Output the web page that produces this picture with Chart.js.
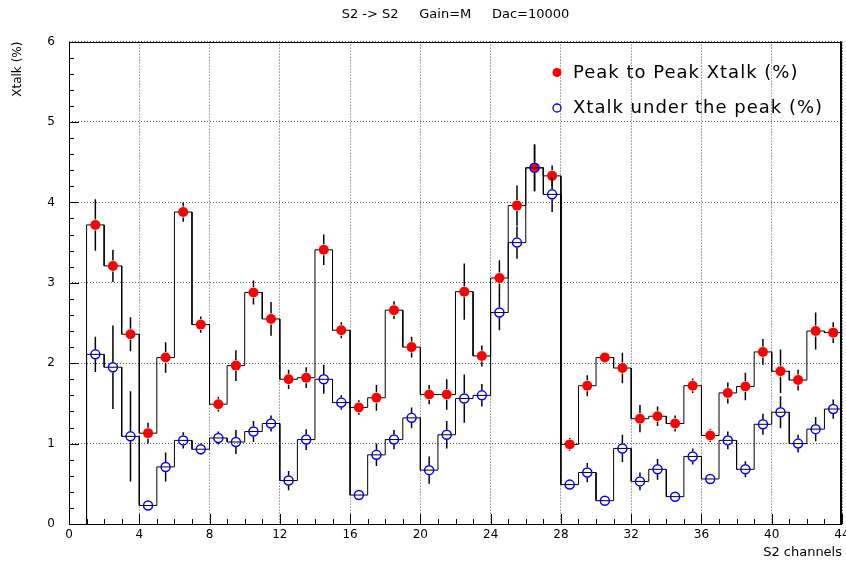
<!DOCTYPE html>
<html>
<head>
<meta charset="utf-8">
<script src="https://cdn.jsdelivr.net/npm/chart.js@4/dist/chart.umd.min.js"></script>
<style>
  html, body { margin: 0; padding: 0; background: #fff; }
  #c { display: block; }
</style>
</head>
<body>
<canvas id="c" width="846" height="561"></canvas>
<script>
// ===== Data =====
const channels = [1, 2, 3, 4, 5, 6, 7, 8, 9, 10, 11, 12, 13, 14, 15, 16, 17, 18, 19, 20, 21, 22,
                  23, 24, 25, 26, 27, 28, 29, 30, 31, 32, 33, 34, 35, 36, 37, 38, 39, 40, 41, 42, 43];

const peakToPeak = [3.72, 3.21, 2.36, 1.13, 2.07, 3.88, 2.48, 1.49, 1.97, 2.88, 2.55, 1.80, 1.82, 3.41, 2.41,
                    1.45, 1.57, 2.66, 2.20, 1.61, 1.61, 2.89, 2.09, 3.06, 3.96, 4.43, 4.33, 0.99, 1.72, 2.07,
                    1.94, 1.31, 1.34, 1.25, 1.72, 1.10, 1.63, 1.71, 2.14, 1.90, 1.79, 2.40, 2.38];
const peakErr    = [0.32, 0.20, 0.21, 0.13, 0.19, 0.12, 0.10, 0.09, 0.19, 0.15, 0.21, 0.12, 0.13, 0.19, 0.10,
                    0.09, 0.16, 0.11, 0.13, 0.12, 0.19, 0.35, 0.13, 0.22, 0.25, 0.29, 0.13, 0.08, 0.13, 0.04,
                    0.19, 0.17, 0.12, 0.10, 0.09, 0.08, 0.13, 0.17, 0.16, 0.27, 0.13, 0.23, 0.13];

const underPeak  = [2.11, 1.95, 1.09, 0.23, 0.71, 1.04, 0.93, 1.07, 1.02, 1.15, 1.25, 0.54, 1.05, 1.80, 1.51,
                    0.36, 0.86, 1.05, 1.32, 0.67, 1.11, 1.56, 1.60, 2.63, 3.50, 4.43, 4.10, 0.49, 0.64, 0.29,
                    0.94, 0.53, 0.68, 0.34, 0.84, 0.56, 1.04, 0.68, 1.24, 1.39, 1.00, 1.18, 1.43];
const underErr   = [0.22, 0.52, 0.56, 0.03, 0.18, 0.10, 0.07, 0.08, 0.15, 0.13, 0.10, 0.12, 0.13, 0.18, 0.09,
                    0.03, 0.14, 0.12, 0.13, 0.17, 0.17, 0.30, 0.14, 0.22, 0.20, 0.29, 0.22, 0.06, 0.12, 0.03,
                    0.17, 0.11, 0.13, 0.03, 0.10, 0.04, 0.11, 0.10, 0.13, 0.20, 0.11, 0.15, 0.12];

const titleText  = "S2 -> S2     Gain=M     Dac=10000";
const xTitle     = "S2 channels";
const yTitle     = "Xtalk (%)";
const labelPeak  = "Peak to Peak Xtalk (%)";
const labelUnder = "Xtalk under the peak (%)";

// ===== helpers =====
// histogram outline: bin edges [ch, ch+1]
function stepPoints(vals) {
  const pts = [{ x: channels[0], y: 0 }];
  vals.forEach((v, i) => {
    pts.push({ x: channels[i], y: v });
    pts.push({ x: channels[i] + 1, y: v });
  });
  pts.push({ x: channels[channels.length - 1] + 1, y: 0 });
  return pts;
}
const centers = (vals) => vals.map((v, i) => ({ x: channels[i] + 0.5, y: v }));

Chart.defaults.font.family = "'DejaVu Sans', sans-serif";
Chart.defaults.font.size = 12;
Chart.defaults.color = "#000";

// error bars, drawn right before the marker dataset
const errorBars = {
  id: "errorBars",
  beforeDatasetDraw(chart, args) {
    const ds = chart.data.datasets[args.index];
    if (!ds.errors) return;
    const { ctx, chartArea: a, scales: { x, y } } = chart;
    const r = ds.pointRadius + 0.5;
    ctx.save();
    ctx.beginPath();
    ctx.rect(a.left, a.top, a.right - a.left, a.bottom - a.top);
    ctx.clip();
    ctx.strokeStyle = "#000";
    ctx.lineWidth = 1.5;
    ds.data.forEach((p, i) => {
      const px = x.getPixelForValue(p.x);
      const py = y.getPixelForValue(p.y);
      const top = y.getPixelForValue(p.y + ds.errors[i]);
      const bot = y.getPixelForValue(p.y - ds.errors[i]);
      ctx.beginPath();
      if (top < py - r) { ctx.moveTo(px, top); ctx.lineTo(px, py - r); }
      if (bot > py + r) { ctx.moveTo(px, py + r); ctx.lineTo(px, bot); }
      ctx.stroke();
    });
    ctx.restore();
  }
};

// ROOT-like frame, inward ticks and the legend box
const frame = {
  id: "frame",
  afterDraw(chart) {
    const { ctx, chartArea: a, scales: { x, y } } = chart;
    ctx.save();
    ctx.strokeStyle = "#000";
    ctx.lineWidth = 1;
    ctx.beginPath();
    for (let v = x.min; v <= x.max; v += 1) {
      const px = Math.round(x.getPixelForValue(v)) + 0.5;
      const len = v % 4 === 0 ? 10 : 5;
      ctx.moveTo(px, a.bottom);
      ctx.lineTo(px, a.bottom - len);
    }
    for (let k = 0; k <= 30; k++) {
      const v = y.min + k * 0.2;
      const py = Math.round(y.getPixelForValue(v)) + 0.5;
      const len = k % 5 === 0 ? 10 : 5;
      ctx.moveTo(a.left, py);
      ctx.lineTo(a.left + len, py);
    }
    ctx.stroke();
    ctx.strokeRect(Math.round(a.left) + 0.5, Math.round(a.top) + 0.5,
                   Math.round(a.right - a.left) - 1, Math.round(a.bottom - a.top));
    ctx.lineWidth = 2;
    ctx.beginPath();
    ctx.moveTo(Math.round(a.right) - 1, a.top);
    ctx.lineTo(Math.round(a.right) - 1, a.bottom);
    ctx.stroke();

    // legend
    ctx.font = "18px 'DejaVu Sans', sans-serif";
    ctx.letterSpacing = "1px";
    ctx.textBaseline = "middle";
    ctx.fillStyle = "#000";
    ctx.fillText(labelPeak, 573, 73);
    ctx.fillText(labelUnder, 573, 108);
    ctx.beginPath();
    ctx.arc(557, 72.5, 4.5, 0, Math.PI * 2);
    ctx.fillStyle = "#ff0000";
    ctx.fill();
    ctx.beginPath();
    ctx.arc(557, 108, 4, 0, Math.PI * 2);
    ctx.strokeStyle = "#0000ff";
    ctx.lineWidth = 1.3;
    ctx.stroke();
    ctx.restore();
  }
};

new Chart(document.getElementById("c"), {
  data: {
    datasets: [
      {
        type: "line", data: stepPoints(peakToPeak), order: 5,
        borderColor: "#000", borderWidth: 1, pointRadius: 0, tension: 0, fill: false
      },
      {
        type: "scatter", label: labelPeak, data: centers(peakToPeak), errors: peakErr, order: 4,
        pointRadius: 5, pointHoverRadius: 5, backgroundColor: "#ff0000", borderColor: "#ff0000", borderWidth: 0
      },
      {
        type: "line", data: stepPoints(underPeak), order: 3,
        borderColor: "#000", borderWidth: 1, pointRadius: 0, tension: 0, fill: false
      },
      {
        type: "scatter", label: labelUnder, data: centers(underPeak), errors: underErr, order: 2,
        pointRadius: 4.5, pointHoverRadius: 4.5, backgroundColor: "rgba(0,0,0,0)", borderColor: "#0000ff", borderWidth: 1.5
      }
    ]
  },
  options: {
    responsive: false,
    animation: false,
    devicePixelRatio: 1,
    layout: { autoPadding: false, padding: { left: 0, right: 4, top: 0, bottom: 0 } },
    plugins: {
      legend: { display: false },
      tooltip: { enabled: false },
      title: {
        display: true, text: titleText, fullSize: false,
        font: { size: 13, weight: "normal" }, color: "#000",
        padding: { top: 7, bottom: 19 }
      }
    },
    scales: {
      x: {
        type: "linear", min: 0, max: 44,
        grid: { color: "#555", lineWidth: 1, drawTicks: false },
        border: { display: false, dash: [1, 2] },
        ticks: { stepSize: 4, padding: 4, maxRotation: 0, autoSkip: false, font: { size: 12 } },
        title: { display: true, text: xTitle, align: "end", font: { size: 13 }, padding: { top: 0, bottom: 1 } },
        afterFit(s) { s.height = 37; s.paddingLeft = 0; s.paddingRight = 0; }
      },
      y: {
        type: "linear", min: 0, max: 6,
        grid: { color: "#555", lineWidth: 1, drawTicks: false },
        border: { display: false, dash: [1, 2] },
        ticks: { stepSize: 1, padding: 14, font: { size: 12 } },
        title: { display: true, text: yTitle, align: "end", font: { size: 12 }, padding: { top: 11, bottom: 0 } },
        afterFit(s) { s.width = 69; s.paddingTop = 0; s.paddingBottom = 0; }
      }
    }
  },
  plugins: [errorBars, frame]
});
</script>
</body>
</html>
